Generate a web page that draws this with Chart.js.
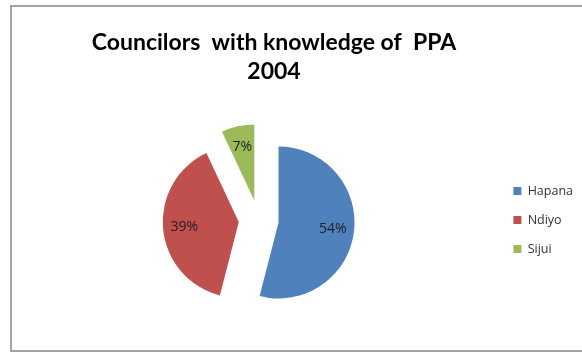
<!DOCTYPE html>
<html>
<head>
<meta charset="utf-8">
<title>Councilors with knowledge of PPA 2004</title>
<script src="https://cdn.jsdelivr.net/npm/chart.js@4/dist/chart.umd.min.js"></script>
<style>
    html, body { margin: 0; padding: 0; background: #ffffff; overflow: hidden; }
    #page { position: relative; width: 582px; height: 352px; overflow: hidden; }
    /* grey frame around the chart, open on the right like the exported sheet */
    #frame {
        position: absolute; left: 10px; top: 5px; width: 620px; height: 347px;
        box-sizing: border-box; border: 2px solid #a3a3a3; border-right: none;
    }
    #chart { position: absolute; left: -35px; top: 0; }
</style>
</head>
<body>
<div id="page">
    <div id="frame"></div>
    <canvas id="chart" width="618" height="352"></canvas>
</div>
<script>
// Survey answers
const categories = ['Hapana', 'Ndiyo', 'Sijui'];
const shares = [54, 39, 7];
const sliceColours = ['#4F81BD', '#C0504D', '#9BBB59'];
const titleLines = ['Councilors  with knowledge of  PPA', '2004'];

// Pulls every slice away from the centre and writes its percentage on it
const explodedPie = {
    id: 'explodedPie',
    beforeDatasetDraw(chart, args, opts) {
        const ctx = chart.ctx;
        args.meta.data.forEach(arc => {
            const mid = (arc.startAngle + arc.endAngle) / 2;
            ctx.save();
            ctx.translate(Math.cos(mid) * opts.distance, Math.sin(mid) * opts.distance);
            arc.draw(ctx);
            ctx.restore();
        });
        return false;
    },
    afterDatasetsDraw(chart, args, opts) {
        const ctx = chart.ctx;
        const meta = chart.getDatasetMeta(0);
        ctx.save();
        ctx.font = opts.font;
        ctx.fillStyle = opts.color;
        ctx.textAlign = 'center';
        ctx.textBaseline = 'middle';
        meta.data.forEach((arc, i) => {
            const mid = (arc.startAngle + arc.endAngle) / 2;
            const r = opts.distance + arc.outerRadius * opts.labelRadius;
            ctx.fillText(shares[i] + '%', arc.x + Math.cos(mid) * r, arc.y + Math.sin(mid) * r);
        });
        ctx.restore();
    }
};

new Chart(document.getElementById('chart'), {
    type: 'pie',
    data: {
        labels: categories,
        datasets: [{
            data: shares,
            backgroundColor: sliceColours,
            borderWidth: 0
        }]
    },
    plugins: [explodedPie],
    options: {
        responsive: false,
        animation: false,
        radius: 76,
        layout: {
            padding: { top: 0, bottom: 12, left: 0, right: 0 }
        },
        plugins: {
            explodedPie: {
                distance: 20,
                labelRadius: 0.72,
                font: '14px "Open Sans"',
                color: '#1f1f1f'
            },
            title: {
                display: true,
                text: titleLines,
                color: '#000000',
                font: { family: 'Lato', size: 23, weight: 'bold', lineHeight: '29px' },
                padding: { top: 28.5, bottom: 13.5 }
            },
            // empty left block keeps the pie left of the title centre
            subtitle: {
                display: true,
                position: 'left',
                text: '',
                font: { size: 10, lineHeight: 1 },
                padding: { top: 0, bottom: 45.5 }
            },
            legend: {
                position: 'right',
                align: 'center',
                fullSize: false,
                labels: {
                    boxWidth: 8,
                    boxHeight: 8,
                    padding: 16.5,
                    color: '#333333',
                    font: { family: 'Open Sans', size: 12.5 }
                }
            },
            tooltip: { enabled: false }
        }
    }
});
</script>
</body>
</html>
